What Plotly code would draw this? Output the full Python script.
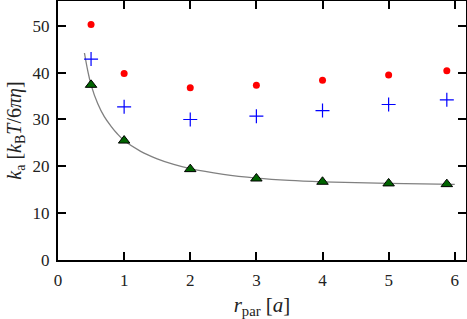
import plotly.graph_objects as go

r_par = [0.5, 1, 2, 3, 4, 5, 5.88]
k_red = [50.3, 39.8, 36.8, 37.3, 38.4, 39.5, 40.4]
k_blue = [42.9, 32.7, 30.0, 30.7, 31.9, 33.2, 34.2]
k_green = [37.4, 25.5, 19.4, 17.4, 16.7, 16.35, 16.2]

curve_x = [0.4, 0.45, 0.5, 0.6, 0.7, 0.8, 0.9, 1.0, 1.25, 1.5, 1.75, 2.0, 2.5, 3.0, 3.5, 4.0, 4.5, 5.0, 5.5, 6.0]
curve_y = [44.2, 40.4, 37.4, 33.4, 30.6, 28.6, 26.9, 25.5, 23.2, 21.6, 20.4, 19.5, 18.3, 17.5, 17.0, 16.7, 16.5, 16.35, 16.25, 16.15]

x_ticks = [0, 1, 2, 3, 4, 5, 6]
y_ticks = [0, 10, 20, 30, 40, 50]

FONT = "'Liberation Serif', 'DejaVu Serif', serif"

fig = go.Figure()
fig.add_trace(go.Scatter(x=curve_x, y=curve_y, mode="lines",
                         line=dict(color="#808080", width=1.3, shape="spline"),
                         showlegend=False))
fig.add_trace(go.Scatter(x=r_par, y=k_red, mode="markers",
                         marker=dict(symbol="circle", size=7, color="#ff0000"),
                         showlegend=False))
fig.add_trace(go.Scatter(x=r_par, y=k_blue, mode="markers",
                         marker=dict(symbol="cross-thin", size=10,
                                     line=dict(color="#0000ff", width=1.2)),
                         showlegend=False))
fig.add_trace(go.Scatter(x=r_par, y=k_green, mode="markers",
                         marker=dict(symbol="triangle-up", size=10, color="#006400",
                                     line=dict(color="black", width=1)),
                         showlegend=False))

axis_common = dict(showline=True, linecolor="black", linewidth=2, mirror="allticks",
                   ticks="inside", ticklen=8, tickwidth=1.5, tickcolor="black",
                   showgrid=False, zeroline=False, automargin=False,
                   tickfont=dict(family=FONT, size=17, color="#222"))

fig.update_xaxes(range=[0, 6.17], tickvals=x_ticks, ticklabelstandoff=4,
                 title=dict(text="<i>r</i><sub>par</sub> [<i>a</i>]",
                            font=dict(family=FONT, size=21, color="#222"), standoff=8),
                 **axis_common)
fig.update_yaxes(range=[0, 55.3], tickvals=y_ticks, ticklabelstandoff=3,
                 title=dict(text="<i>k</i><sub>a</sub> [<i>k</i><sub>B</sub><i>T</i>/6<i>πη</i>]",
                            font=dict(family=FONT, size=20, color="#222"), standoff=6),
                 **axis_common)

fig.update_layout(width=467, height=319, margin=dict(l=58, r=1, t=1, b=59, autoexpand=False),
                  plot_bgcolor="white", paper_bgcolor="white",
                  font=dict(family=FONT))

fig.write_html("out.html", config={"displayModeBar": False},
               post_script="document.body.style.margin='0';")
